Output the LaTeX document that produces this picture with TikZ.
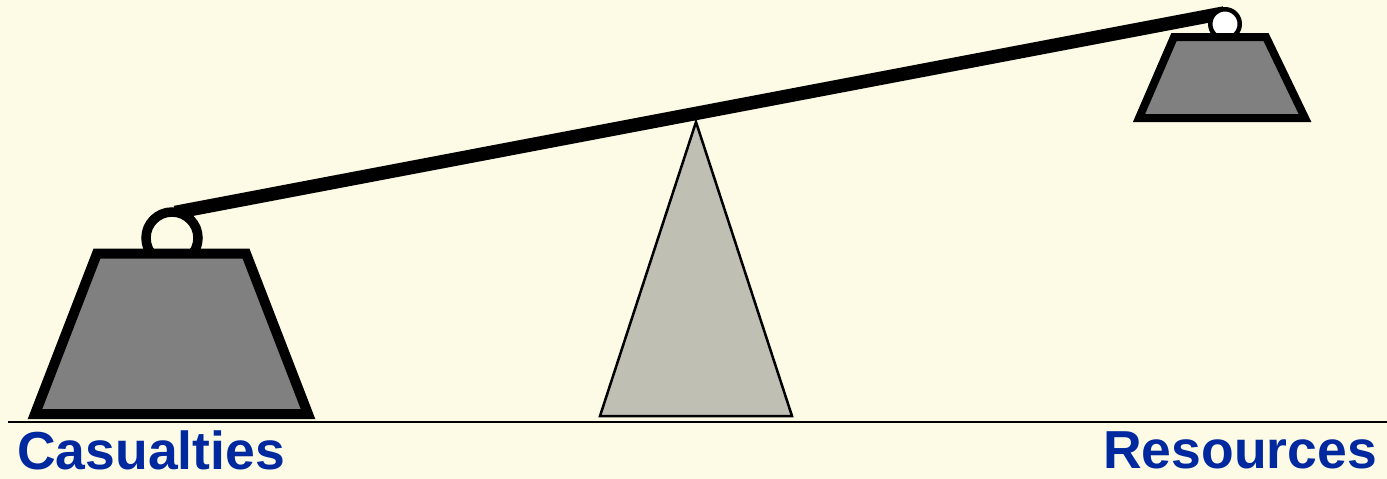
\documentclass[tikz,border=0pt]{standalone}
\usepackage{fontspec}
\setmainfont{Liberation Sans}
\definecolor{bgcream}{RGB}{253,251,229}
\definecolor{weightgray}{RGB}{128,128,128}
\definecolor{pivotgray}{RGB}{191,191,179}
\definecolor{labelblue}{RGB}{0,41,160}
\tikzset{
  weightbox/.style={draw=black,fill=weightgray,line join=miter},
  pivotbox/.style={draw=black,fill=pivotgray,line width=2.5pt,line join=miter},
  beamline/.style={line width=13.5pt,line cap=butt},
  label/.style={text=labelblue,font=\bfseries\fontsize{53.5}{60}\selectfont,inner sep=0pt}
}
\begin{document}
\begin{tikzpicture}[x=1pt,y=-1pt]
\fill[bgcream] (0,0) rectangle (1387,479);
\useasboundingbox (0,0) rectangle (1387,479);
% ground
\draw[line width=2pt] (8,422) -- (1387,422);
% pivot
\draw[pivotbox] (696,122) -- (792,416) -- (600,416) -- cycle;
% beam
\coordinate (beamL) at (175,212.5);
\coordinate (beamR) at (1224,13);
\draw[beamline] (beamL) -- (beamR);
% rings
\draw[line width=9.5pt,fill=bgcream] (172,238) circle[radius=26];
\draw[line width=4.5pt,fill=white] (1225,24) circle[radius=14.75];
% weights
\draw[weightbox,line width=10pt] (97,253.5) -- (246,253.5) -- (308,414) -- (35,414) -- cycle;
\draw[weightbox,line width=8pt] (1174,37) -- (1266,37) -- (1305,118) -- (1139,118) -- cycle;
% labels
\node[label,anchor=base west] (cas) at (17,469) {Casualties};
\node[label,anchor=base east] (res) at (1377,468) {Resources};
\end{tikzpicture}
\end{document}
